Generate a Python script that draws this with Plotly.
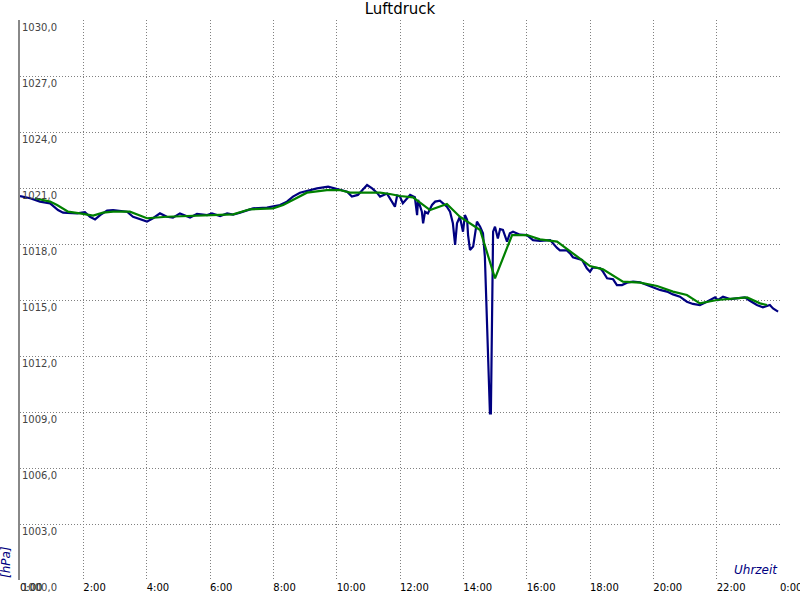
import plotly.graph_objects as go

# Blue: measured pressure (hours, hPa)
raw_hours = [0.00, 0.32, 0.63, 0.95, 1.20, 1.36, 1.80, 2.05, 2.21, 2.37, 2.53, 2.75, 2.94, 3.38, 3.57,
             3.85, 4.01, 4.20, 4.42, 4.64, 4.83, 5.05, 5.37, 5.59, 5.91, 6.06, 6.32, 6.54, 6.73, 6.95,
             7.17, 7.36, 7.80, 7.99, 8.21, 8.43, 8.62, 8.84, 9.06, 9.38, 9.73, 10.01, 10.33, 10.48,
             10.67, 10.96, 11.12, 11.27, 11.37, 11.59, 11.84, 11.91, 12.00, 12.09, 12.22, 12.32,
             12.47, 12.54, 12.57, 12.69, 12.73, 12.79, 12.88, 13.01, 13.11, 13.26, 13.36, 13.48,
             13.58, 13.67, 13.74, 13.80, 13.89, 13.99, 14.05, 14.12, 14.15, 14.21, 14.31, 14.43,
             14.53, 14.62, 14.68, 14.75, 14.78, 14.84, 14.87, 14.91, 14.94, 15.00, 15.09, 15.16,
             15.25, 15.38, 15.47, 15.57, 15.79, 16.01, 16.20, 16.42, 16.74, 16.96, 17.05, 17.27,
             17.37, 17.46, 17.75, 17.90, 18.00, 18.09, 18.32, 18.41, 18.54, 18.73, 18.85, 19.01,
             19.17, 19.36, 19.58, 19.80, 19.99, 20.21, 20.43, 20.62, 20.84, 21.06, 21.25, 21.47,
             21.69, 21.95, 22.04, 22.20, 22.42, 22.74, 22.89, 23.05, 23.27, 23.46, 23.68, 23.78, 23.94]
raw_hpa = [1020.57, 1020.45, 1020.27, 1020.18, 1019.82, 1019.68, 1019.64, 1019.70, 1019.46, 1019.32,
           1019.55, 1019.79, 1019.82, 1019.73, 1019.46, 1019.32, 1019.20, 1019.38, 1019.64, 1019.46,
           1019.41, 1019.64, 1019.42, 1019.61, 1019.55, 1019.64, 1019.50, 1019.64, 1019.57, 1019.68,
           1019.82, 1019.91, 1019.95, 1020.00, 1020.09, 1020.27, 1020.54, 1020.75, 1020.86, 1020.98,
           1021.07, 1020.95, 1020.80, 1020.54, 1020.63, 1021.16, 1020.98, 1020.75, 1020.54, 1020.70,
           1020.00, 1020.60, 1020.54, 1020.18, 1020.45, 1020.63, 1020.50, 1019.55, 1020.36, 1019.73,
           1019.11, 1019.73, 1019.64, 1020.09, 1020.27, 1020.32, 1020.18, 1020.00, 1019.73, 1019.11,
           1017.95, 1019.11, 1019.46, 1018.66, 1019.55, 1019.30, 1018.48, 1017.68, 1017.86, 1019.20,
           1018.93, 1018.57, 1017.32, 1013.20, 1011.25, 1008.93, 1008.93, 1015.00, 1018.66, 1018.93,
           1018.30, 1018.80, 1018.75, 1018.13, 1018.57, 1018.66, 1018.50, 1018.48, 1018.21, 1018.17,
           1018.21, 1017.79, 1017.66, 1017.66, 1017.50, 1017.29, 1017.14, 1016.70, 1016.52, 1016.75,
           1016.70, 1016.52, 1016.16, 1016.11, 1015.80, 1015.80, 1015.93, 1015.98, 1015.95, 1015.80,
           1015.66, 1015.54, 1015.45, 1015.30, 1015.18, 1014.91, 1014.79, 1014.73, 1014.91, 1015.14,
           1015.00, 1015.18, 1015.05, 1015.09, 1015.14, 1014.96, 1014.73, 1014.61, 1014.73, 1014.55,
           1014.38]

# Green: smoothed pressure
avg_hours = [0.47, 0.95, 1.17, 1.52, 1.89, 2.31, 2.62, 2.94, 3.47, 4.01, 4.64, 5.68, 6.73, 7.26,
             7.99, 8.31, 9.06, 9.69, 10.10, 10.42, 11.37, 11.68, 12.00, 12.41, 12.95, 13.48, 13.89,
             14.53, 15.00, 15.54, 16.01, 16.42, 16.96, 17.46, 18.00, 18.41, 19.04, 19.58, 20.12,
             20.62, 21.06, 21.47, 22.01, 22.96, 23.37, 23.59]
avg_hpa = [1020.45, 1020.27, 1020.09, 1019.73, 1019.64, 1019.52, 1019.68, 1019.73, 1019.73, 1019.38,
           1019.46, 1019.52, 1019.59, 1019.86, 1019.91, 1020.09, 1020.75, 1020.89, 1020.89, 1020.75,
           1020.75, 1020.68, 1020.57, 1020.50, 1019.82, 1020.14, 1019.46, 1018.75, 1016.16, 1018.48,
           1018.48, 1018.25, 1018.13, 1017.50, 1016.82, 1016.64, 1015.98, 1015.93, 1015.75, 1015.45,
           1015.27, 1014.82, 1015.00, 1015.14, 1014.82, 1014.73]

x_tickvals = list(range(0, 25, 2))
x_ticktext = ["0:00", "2:00", "4:00", "6:00", "8:00", "10:00", "12:00", "14:00", "16:00",
              "18:00", "20:00", "22:00", "0:00"]
y_tickvals = list(range(1000, 1031, 3))

fig = go.Figure()
fig.add_trace(go.Scatter(x=raw_hours, y=raw_hpa, mode="lines",
                         line=dict(color="#000080", width=2.2), showlegend=False))
fig.add_trace(go.Scatter(x=avg_hours, y=avg_hpa, mode="lines",
                         line=dict(color="#008000", width=2.2), showlegend=False))

grid = dict(showgrid=True, gridcolor="#808080", gridwidth=1, griddash="1px,2px")

fig.update_layout(
    width=800, height=600,
    margin=dict(l=20, r=20, t=20, b=20),
    paper_bgcolor="white", plot_bgcolor="white",
    separators=",.",
    font=dict(family="DejaVu Sans", size=10, color="black"),
    title=dict(text="Luftdruck", x=0.5, xanchor="center", yref="container", y=0.985, yanchor="middle",
               font=dict(family="DejaVu Sans", size=15, color="black"), automargin=False),
    xaxis=dict(range=[0, 24], tickvals=x_tickvals, ticktext=x_ticktext, automargin=False,
               ticklabelposition="outside right", ticks="", zeroline=False,
               showline=False, ticklabeloverflow="allow", tickfont=dict(size=10), **grid),
    yaxis=dict(range=[1000, 1030], tickvals=y_tickvals, tickformat=".1f", automargin=False,
               ticklabelposition="inside bottom", ticks="", zeroline=False,
               showline=True, linecolor="#888888", linewidth=2,
               ticklabeloverflow="allow", tickfont=dict(size=10), **grid),
    annotations=[
        dict(text="<i>Uhrzeit</i>", xref="paper", yref="paper", x=1, y=0, xanchor="right", yanchor="bottom",
             yshift=1, showarrow=False, font=dict(family="DejaVu Sans", size=12, color="#000080")),
        dict(text="<i>[hPa]</i>", xref="paper", yref="paper", x=0, y=0, xanchor="right", yanchor="bottom",
             xshift=-5, showarrow=False, textangle=-90,
             font=dict(family="DejaVu Sans", size=12, color="#000080")),
    ],
)

fig.write_html("out.html", config={"displayModeBar": False},
               post_script="document.body.style.margin='0';document.body.style.overflow='hidden';")
